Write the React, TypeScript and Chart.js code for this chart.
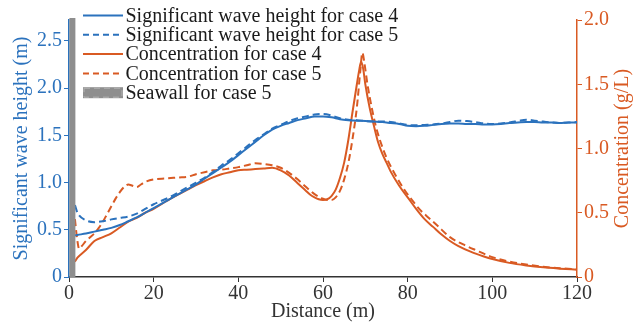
import React, { useEffect, useRef } from 'react';
import { Chart, registerables } from 'chart.js';

Chart.register(...registerables);

// ---- data ----
const distH = [1.4, 2, 4, 6, 8, 10, 12, 14, 16, 18, 20, 22, 24, 26, 28, 30, 32, 34, 36, 38, 40, 42, 44, 46, 48, 50, 52, 54, 56, 58, 60, 62, 64, 66, 68, 70, 72, 74, 76, 78, 80, 82, 84, 86, 88, 90, 92, 94, 96, 98, 100, 102, 104, 106, 108, 110, 112, 114, 116, 118, 120];
const waveCase4 = [0.44, 0.445, 0.46, 0.48, 0.50, 0.52, 0.55, 0.59, 0.63, 0.68, 0.73, 0.78, 0.83, 0.88, 0.93, 0.98, 1.04, 1.10, 1.16, 1.22, 1.29, 1.36, 1.43, 1.50, 1.56, 1.60, 1.63, 1.66, 1.68, 1.70, 1.70, 1.69, 1.67, 1.66, 1.655, 1.65, 1.645, 1.64, 1.63, 1.62, 1.60, 1.595, 1.60, 1.61, 1.62, 1.625, 1.625, 1.62, 1.62, 1.615, 1.615, 1.62, 1.63, 1.635, 1.64, 1.64, 1.635, 1.635, 1.63, 1.635, 1.635];
const waveCase5 = [0.76, 0.68, 0.60, 0.58, 0.59, 0.61, 0.625, 0.64, 0.67, 0.72, 0.77, 0.81, 0.85, 0.90, 0.95, 1.00, 1.05, 1.11, 1.18, 1.24, 1.31, 1.38, 1.45, 1.51, 1.57, 1.61, 1.65, 1.68, 1.70, 1.72, 1.725, 1.71, 1.68, 1.665, 1.66, 1.65, 1.645, 1.645, 1.64, 1.625, 1.61, 1.605, 1.61, 1.615, 1.625, 1.64, 1.655, 1.65, 1.64, 1.625, 1.62, 1.625, 1.635, 1.65, 1.665, 1.655, 1.645, 1.635, 1.63, 1.635, 1.64];

const distC4 = [1.4, 2, 4, 6, 8, 10, 12, 14, 16, 18, 20, 22, 24, 26, 28, 30, 32, 34, 36, 38, 40, 42, 44, 46, 48, 50, 52, 54, 56, 57, 58, 59, 60, 61, 62, 63, 64, 65, 66, 67, 68, 68.5, 69, 69.5, 70, 71, 72, 73, 74, 75, 76, 78, 80, 82, 84, 86, 88, 90, 92, 95, 98, 100, 104, 108, 112, 116, 120];
const concCase4 = [0.12, 0.15, 0.21, 0.28, 0.31, 0.34, 0.385, 0.43, 0.46, 0.50, 0.53, 0.57, 0.61, 0.645, 0.68, 0.715, 0.745, 0.775, 0.80, 0.815, 0.83, 0.835, 0.84, 0.845, 0.85, 0.83, 0.79, 0.73, 0.67, 0.64, 0.62, 0.605, 0.60, 0.605, 0.63, 0.68, 0.77, 0.89, 1.07, 1.29, 1.50, 1.60, 1.675, 1.62, 1.50, 1.32, 1.18, 1.05, 0.96, 0.89, 0.82, 0.71, 0.62, 0.53, 0.45, 0.39, 0.33, 0.28, 0.24, 0.195, 0.16, 0.14, 0.11, 0.09, 0.075, 0.065, 0.057];

const distC5 = [1.4, 1.9, 2.4, 3, 4, 5, 6, 7, 8, 9, 10, 11, 12, 13, 14, 15, 16, 17, 18, 20, 23, 26, 28, 30, 32, 34, 36, 38, 40, 42, 44, 46, 48, 50, 52, 54, 56, 58, 60, 61, 62, 63, 64, 65, 66, 67, 68, 68.8, 69.3, 69.8, 70.5, 71.5, 72.5, 73.5, 75, 77, 79, 81, 83, 85, 87, 90, 93, 96, 100, 104, 108, 112, 116, 120];
const concCase5 = [0.45, 0.30, 0.22, 0.24, 0.28, 0.31, 0.34, 0.38, 0.43, 0.49, 0.55, 0.61, 0.66, 0.70, 0.72, 0.71, 0.70, 0.72, 0.74, 0.76, 0.767, 0.775, 0.78, 0.80, 0.815, 0.83, 0.835, 0.845, 0.855, 0.87, 0.885, 0.88, 0.87, 0.85, 0.81, 0.76, 0.70, 0.645, 0.61, 0.60, 0.60, 0.62, 0.67, 0.76, 0.89, 1.08, 1.32, 1.60, 1.745, 1.66, 1.50, 1.32, 1.17, 1.06, 0.93, 0.80, 0.69, 0.60, 0.52, 0.46, 0.40, 0.31, 0.255, 0.21, 0.155, 0.12, 0.097, 0.08, 0.068, 0.06];

const seawallDist = [0.8, 0.8];
const seawallHeight = [0, 2.74];

const xTicks = [0, 20, 40, 60, 80, 100, 120];
const leftTicks = [0, 0.5, 1.0, 1.5, 2.0, 2.5];
const rightTicks = [0, 0.5, 1.0, 1.5, 2.0];

const legendLabels = [
  'Significant wave height for case 4',
  'Significant wave height for case 5',
  'Concentration for case 4',
  'Concentration for case 5',
  'Seawall for case 5',
];

const BLUE = '#2b72bd';
const ORANGE = '#d95a23';
const GRAY = '#8e8e8e';
const DARK = '#333333';
const FONT = '"Liberation Serif", "Times New Roman", serif';

const pts = (xs: number[], ys: number[]) => xs.map((x, i) => ({ x, y: ys[i] }));
const fmt = (v: number) => (v === 0 ? '0' : v.toFixed(1));

const overlayPlugin = {
  id: 'overlay',
  afterDraw(chart: any) {
    const ctx = chart.ctx;
    ctx.save();
    // legend
    const x0 = 83, x1 = 123, tx = 125.5;
    const y0 = 15.5, dy = 19.3;
    ctx.font = `20px ${FONT}`;
    ctx.textBaseline = 'middle';
    ctx.textAlign = 'left';
    const styles = [
      { c: BLUE, d: [] as number[] },
      { c: BLUE, d: [6, 4] },
      { c: ORANGE, d: [] as number[] },
      { c: ORANGE, d: [6, 4] },
    ];
    legendLabels.forEach((lab, i) => {
      const y = y0 + dy * i;
      if (i < 4) {
        ctx.strokeStyle = styles[i].c;
        ctx.lineWidth = 2;
        ctx.setLineDash(styles[i].d);
        ctx.beginPath();
        ctx.moveTo(x0, y);
        ctx.lineTo(x1, y);
        ctx.stroke();
      } else {
        ctx.setLineDash([]);
        ctx.fillStyle = GRAY;
        ctx.fillRect(x0, y - 5.5, x1 - x0, 11);
        ctx.strokeStyle = '#b4b4b4';
        ctx.lineWidth = 1;
        ctx.setLineDash([6, 4]);
        ctx.strokeRect(x0 + 1, y - 4.5, x1 - x0 - 2, 9);
      }
      ctx.setLineDash([]);
      ctx.fillStyle = '#1a1a1a';
      ctx.fillText(lab, tx, y + 1);
    });
    // right axis title
    const ca = chart.chartArea;
    ctx.translate(623, (ca.top + ca.bottom) / 2);
    ctx.rotate(-Math.PI / 2);
    ctx.textAlign = 'center';
    ctx.fillStyle = ORANGE;
    ctx.fillText('Concentration (g/L)', 0, 0);
    ctx.restore();
  },
};

export default function App() {
  const ref = useRef<HTMLCanvasElement | null>(null);
  useEffect(() => {
    if (!ref.current) return;
    const line = (label: string, data: any[], color: string, dash: number[], axis: string) => ({
      label,
      data,
      yAxisID: axis,
      borderColor: color,
      backgroundColor: color,
      borderWidth: 2,
      borderDash: dash,
      pointRadius: 0,
      cubicInterpolationMode: 'monotone' as const,
      fill: false,
      order: 1,
    });
    const chart = new Chart(ref.current, {
      type: 'line',
      data: {
        datasets: [
          line(legendLabels[0], pts(distH, waveCase4), BLUE, [], 'yL'),
          line(legendLabels[1], pts(distH, waveCase5), BLUE, [7, 4], 'yL'),
          line(legendLabels[2], pts(distC4, concCase4), ORANGE, [], 'yR'),
          line(legendLabels[3], pts(distC5, concCase5), ORANGE, [7, 4], 'yR'),
          {
            label: legendLabels[4],
            data: pts(seawallDist, seawallHeight),
            yAxisID: 'yL',
            borderColor: GRAY,
            borderWidth: 6,
            pointRadius: 0,
            borderCapStyle: 'butt',
            clip: false,
            order: 0,
          } as any,
        ],
      },
      options: {
        animation: false,
        responsive: true,
        maintainAspectRatio: false,
        layout: { padding: { top: 20, left: 0, right: 0, bottom: 0 } },
        plugins: { legend: { display: false }, tooltip: { enabled: false } },
        scales: {
          x: {
            type: 'linear',
            min: 0,
            max: 120,
            afterBuildTicks: (s: any) => { s.ticks = xTicks.map((v) => ({ value: v })); },
            ticks: { font: { family: FONT, size: 20 }, color: DARK, padding: 0, maxRotation: 0 },
            grid: { drawOnChartArea: false, drawTicks: true, tickLength: 5, color: DARK },
            border: { color: DARK, width: 1.5 },
            title: { display: true, text: 'Distance (m)', font: { family: FONT, size: 20 }, color: DARK, padding: 0 },
            afterFit: (s: any) => { s.height = 47; },
          },
          yL: {
            type: 'linear',
            position: 'left',
            min: 0,
            max: 2.72,
            afterBuildTicks: (s: any) => { s.ticks = leftTicks.map((v) => ({ value: v })); },
            ticks: { font: { family: FONT, size: 20 }, color: BLUE, padding: 2, callback: (v: any) => fmt(Number(v)) },
            grid: { drawOnChartArea: false, drawTicks: true, tickLength: 5, color: BLUE },
            border: { color: BLUE, width: 1.5 },
            title: { display: true, text: 'Significant wave height (m)', font: { family: FONT, size: 20 }, color: BLUE, padding: { top: 10, bottom: 0 } },
            afterFit: (s: any) => { s.width = 69; },
          },
          yR: {
            type: 'linear',
            position: 'right',
            min: 0,
            max: 2.0,
            afterBuildTicks: (s: any) => { s.ticks = rightTicks.map((v) => ({ value: v })); },
            ticks: { font: { family: FONT, size: 20 }, color: ORANGE, padding: 2, callback: (v: any) => fmt(Number(v)) },
            grid: { drawOnChartArea: false, drawTicks: true, tickLength: 5, color: ORANGE },
            border: { color: ORANGE, width: 1.5 },
            afterFit: (s: any) => { s.width = 61; },
          },
        },
      },
      plugins: [overlayPlugin],
    });
    return () => chart.destroy();
  }, []);
  return (
    <div style={{ position: 'fixed', left: 0, top: 0, width: 638, height: 324, background: '#fff' }}>
      <canvas ref={ref} />
    </div>
  );
}
